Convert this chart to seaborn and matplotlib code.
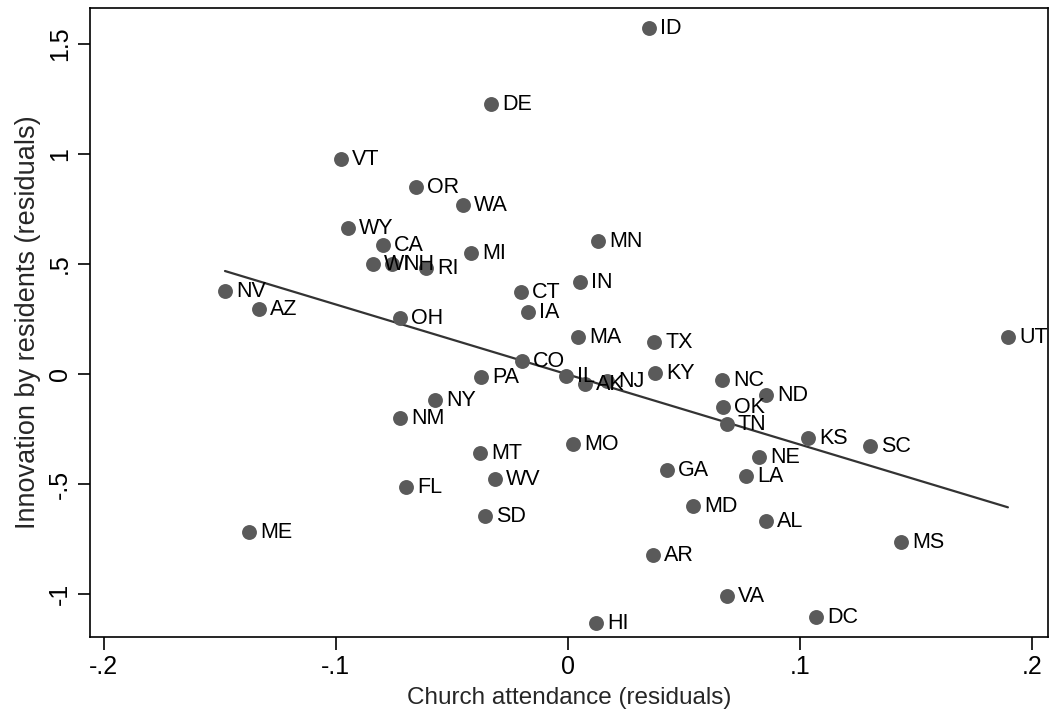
import matplotlib
matplotlib.use("Agg")
import matplotlib.pyplot as plt
import pandas as pd
import seaborn as sns

states = ["ID", "DE", "VT", "OR", "WA", "WY", "CA", "WI", "NH", "RI", "MI", "MN",
          "IN", "CT", "IA", "NV", "AZ", "OH", "MA", "TX", "UT", "CO", "PA", "IL",
          "AK", "NJ", "KY", "NC", "OK", "ND", "TN", "KS", "SC", "NE", "LA", "GA",
          "MD", "AL", "MS", "AR", "VA", "DC", "HI", "NY", "NM", "MT", "MO", "WV",
          "FL", "SD", "ME"]
church = [0.0349, -0.0332, -0.0978, -0.0655, -0.0453, -0.0948, -0.0797, -0.0840,
          -0.0759, -0.0612, -0.0418, 0.0129, 0.0052, -0.0203, -0.0172, -0.1478,
          -0.1332, -0.0724, 0.0043, 0.0371, 0.1897, -0.0198, -0.0375, -0.0009,
          0.0073, 0.0168, 0.0375, 0.0664, 0.0668, 0.0853, 0.0685, 0.1034, 0.1302,
          0.0823, 0.0767, 0.0427, 0.0539, 0.0853, 0.1435, 0.0366, 0.0685, 0.1069,
          0.0121, -0.0573, -0.0724, -0.0379, 0.0022, -0.0315, -0.0698, -0.0358,
          -0.1375]
innovation = [1.573, 1.227, 0.977, 0.850, 0.768, 0.664, 0.586, 0.500, 0.500, 0.482,
              0.550, 0.605, 0.418, 0.373, 0.282, 0.377, 0.295, 0.255, 0.168, 0.145,
              0.168, 0.059, -0.014, -0.009, -0.045, -0.032, 0.005, -0.027, -0.150,
              -0.095, -0.227, -0.291, -0.327, -0.377, -0.464, -0.436, -0.600, -0.668,
              -0.764, -0.823, -1.009, -1.105, -1.132, -0.118, -0.200, -0.359, -0.318,
              -0.477, -0.514, -0.645, -0.718]

x_ticks = [-0.2, -0.1, 0, 0.1, 0.2]
x_tick_labels = ["-.2", "-.1", "0", ".1", ".2"]
y_ticks = [-1, -0.5, 0, 0.5, 1, 1.5]
y_tick_labels = ["-1", "-.5", "0", ".5", "1", "1.5"]

df = pd.DataFrame({"state": states, "church": church, "innovation": innovation})

sns.set_style("ticks")
plt.rcParams["font.family"] = ["Liberation Sans", "DejaVu Sans"]

fig = plt.figure(figsize=(10.55, 7.18), dpi=100)
ax = fig.add_axes([0.0853, 0.1128, 0.9081, 0.8761])

# scatter + OLS fit line over the observed range
sns.regplot(
    data=df,
    x="church",
    y="innovation",
    ci=None,
    truncate=True,
    scatter_kws={"s": 115, "color": "#5a5a5a", "linewidths": 0, "alpha": 1, "zorder": 3},
    line_kws={"color": "#333333", "linewidth": 1.6, "zorder": 2},
    ax=ax,
)

for _, row in df.iterrows():
    ax.annotate(
        row["state"],
        xy=(row["church"], row["innovation"]),
        xytext=(8, -0.5),
        textcoords="offset points",
        va="center",
        ha="left",
        fontsize=15.5,
        color="black",
        zorder=4,
    )

ax.set_xlim(-0.206, 0.207)
ax.set_ylim(-1.195, 1.664)
ax.set_xticks(x_ticks)
ax.set_xticklabels(x_tick_labels)
ax.set_yticks(y_ticks)
ax.set_yticklabels(y_tick_labels, rotation=90, va="center")

ax.set_xlabel("Church attendance (residuals)", fontsize=17.5, labelpad=6)
ax.set_ylabel("Innovation by residents (residuals)", fontsize=19.5, labelpad=5)
ax.tick_params(direction="out", length=9, width=1.2, labelsize=18, pad=4, colors="black")
for spine in ax.spines.values():
    spine.set_visible(True)
    spine.set_linewidth(1.2)
    spine.set_color("black")

plt.savefig("out.png", dpi=100)
plt.close(fig)
